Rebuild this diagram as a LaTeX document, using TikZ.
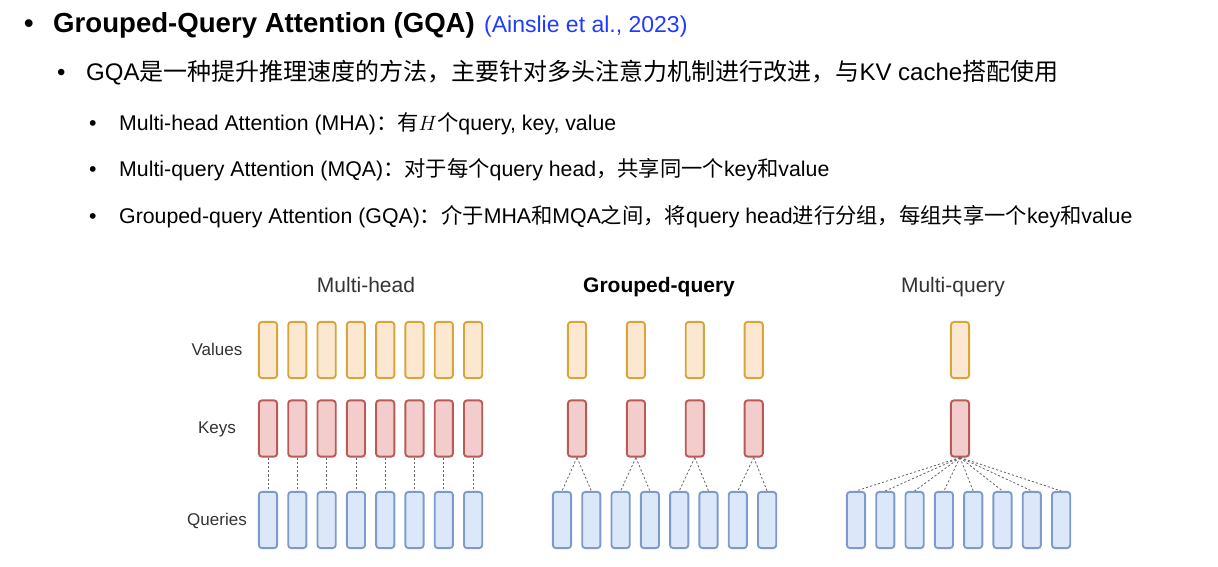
\documentclass[tikz,border=0pt]{standalone}
\usepackage{fontspec}
\setmainfont{Liberation Sans}
\newfontfamily\zhfont{Noto Sans CJK SC}
\newcommand\zh[1]{{\zhfont #1}}
\definecolor{vfill}{HTML}{FCE7D0}
\definecolor{vdraw}{HTML}{D8A53C}
\definecolor{kfill}{HTML}{F3CDCC}
\definecolor{kdraw}{HTML}{B85A55}
\definecolor{qfill}{HTML}{DCE8FA}
\definecolor{qdraw}{HTML}{7C9BCC}
\definecolor{citec}{HTML}{1F3BFF}
\definecolor{lblc}{HTML}{333333}
\definecolor{dashc}{HTML}{666666}
\begin{document}
\begin{tikzpicture}[x=1pt,y=-1pt,
  box/.style={draw, rounded corners=3pt, line width=1.9pt, minimum width=18.2pt, minimum height=56.2pt, inner sep=0pt},
  vbox/.style={box, draw=vdraw, fill=vfill},
  kbox/.style={box, draw=kdraw, fill=kfill},
  qbox/.style={box, draw=qdraw, fill=qfill},
  link/.style={draw=dashc, line width=0.8pt, dash pattern=on 2.2pt off 2pt},
  txt/.style={anchor=base west, inner sep=0pt, text=black},
  lbl/.style={anchor=base, inner sep=0pt, text=lblc, font=\fontsize{17}{19}\selectfont},
  ttl/.style={anchor=base, inner sep=0pt, text=lblc, font=\fontsize{21}{23}\selectfont},
  big/.style={font=\fontsize{24}{28}\selectfont},
  mid/.style={font=\fontsize{21.3}{24}\selectfont}]
\useasboundingbox (0,0) rectangle (1218,567);

% ---- text ----
\node[txt, font=\fontsize{27}{30}\selectfont\bfseries] (b1) at (24,33) {•};
\node[txt, font=\fontsize{27.6}{30}\selectfont\bfseries] (t1) at (53,33) {Grouped-Query Attention (GQA)};
\node[txt, font=\fontsize{23}{26}\selectfont, text=citec] (t1c) at (484,33) {(Ainslie et al., 2023)};

\node[txt, big] (b2) at (57,80.5) {•};
\node[txt, big] (t2) at (86,80.5) {GQA\zh{是一种提升推理速度的方法，主要针对多头注意力机制进行改进，与}KV cache\zh{搭配使用}};

\node[txt, mid] (b3) at (89,130.5) {•};
\node[txt, mid] (t3) at (119,130.5) {Multi-head Attention (MHA)\zh{：有}$H$\zh{个}query, key, value};
\node[txt, mid] (b4) at (89,176.5) {•};
\node[txt, mid] (t4) at (119,176.5) {Multi-query Attention (MQA)\zh{：对于每个}query head\zh{，共享同一个}key\zh{和}value};
\node[txt, mid] (b5) at (89,223.5) {•};
\node[txt, mid] (t5) at (119,223.5) {Grouped-query Attention (GQA)\zh{：介于}MHA\zh{和}MQA\zh{之间，将}query head\zh{进行分组，每组共享一个}key\zh{和}value};

% ---- diagram labels ----
\node[lbl] (lv) at (217,355) {Values};
\node[lbl] (lk) at (217,433) {Keys};
\node[lbl] (lq) at (217,525) {Queries};
\node[ttl] (tm) at (366,292.5) {Multi-head};
\node[ttl, text=black, font=\fontsize{21}{23}\selectfont\bfseries] (tg) at (659,292.5) {Grouped-query};
\node[ttl] (tq) at (953,292.5) {Multi-query};

% ---- Multi-head ----
\foreach \i in {0,...,7} {
  \node[vbox] (mv\i) at ({268+29.3*\i},350) {};
  \node[kbox] (mk\i) at ({268+29.3*\i},428.5) {};
  \node[qbox] (mq\i) at ({268+29.3*\i},520) {};
  \draw[link] (mk\i.south) -- (mq\i.north);
}

% ---- Grouped-query ----
\foreach \g in {0,...,3} {
  \node[vbox] (gv\g) at ({577+58.9*\g},350) {};
  \node[kbox] (gk\g) at ({577+58.9*\g},428.5) {};
}
\foreach \i in {0,...,7} {
  \node[qbox] (gq\i) at ({562+29.3*\i},520) {};
}
\foreach \i [evaluate=\i as \g using {int(\i/2)}] in {0,...,7} {
  \draw[link] (gk\g.south) -- (gq\i.north);
}

% ---- Multi-query ----
\node[vbox] (qv) at (960,350) {};
\node[kbox] (qk) at (960,428.5) {};
\foreach \i in {0,...,7} {
  \node[qbox] (qq\i) at ({856+29.3*\i},520) {};
  \draw[link] (qk.south) -- (qq\i.north);
}
\end{tikzpicture}
\end{document}
